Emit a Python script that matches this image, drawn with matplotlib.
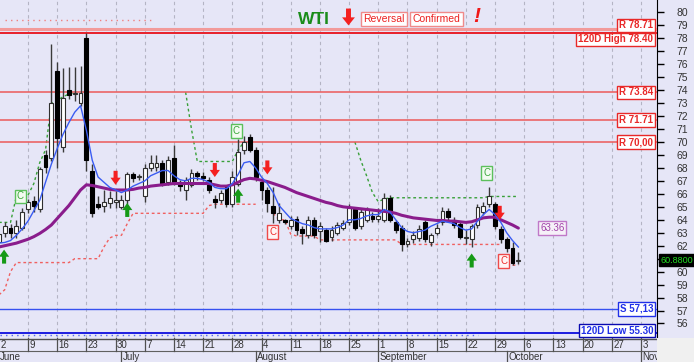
import numpy as np
import matplotlib.pyplot as plt
from matplotlib.patches import FancyArrow, Rectangle
import matplotlib.transforms as mtransforms

plt.rcParams['font.family'] = ['Liberation Sans', 'DejaVu Sans']

# daily candles, trading-day index 0 = Mon 2 June ... 89 = Fri 3 October
opens = [62.3, 63.0, 63.4, 63.0, 63.4, 64.8, 65.45, 64.8, 69.0, 68.8,
         75.5, 69.6, 74.0, 73.7, 73.0, 78.0, 67.8, 65.2, 65.1, 65.3,
         65.4, 65.0, 65.5, 67.5, 67.3, 65.8, 68.0, 68.1, 68.4, 66.9,
         68.8, 66.9, 66.3, 66.7, 67.6, 67.35, 67.1, 65.6, 65.5, 66.5,
         65.2, 66.8, 69.4, 70.4, 69.4, 66.9, 66.3, 65.1, 64.0, 63.95,
         63.5, 64.1, 63.3, 62.8, 64.0, 63.1, 63.2, 62.7, 63.0, 63.4,
         63.8, 64.8, 63.5, 64.0, 64.3, 64.1, 64.0, 65.7, 63.8, 63.4,
         62.1, 62.5, 62.6, 63.8, 62.3, 63.0, 63.8, 64.7, 64.0, 63.7,
         62.6, 62.5, 63.6, 64.6, 65.2, 65.2, 63.3, 62.5, 61.8, 60.8]
highs = [63.2, 63.8, 63.7, 64.0, 64.9, 65.6, 65.8, 68.1, 69.4, 77.6,
         76.2, 75.7, 75.8, 75.8, 75.9, 78.4, 68.3, 65.8, 66.3, 66.2,
         66.2, 65.9, 67.7, 67.7, 67.5, 68.3, 69.0, 69.0, 68.6, 68.9,
         69.8, 67.1, 67.3, 67.9, 67.8, 67.7, 67.3, 65.9, 66.3, 66.6,
         67.8, 70.2, 70.5, 70.6, 69.6, 67.2, 66.5, 66.5, 65.3, 64.1,
         64.3, 64.3, 63.5, 64.3, 64.2, 63.8, 63.4, 63.5, 63.8, 64.0,
         65.2, 65.0, 64.8, 65.0, 64.6, 64.9, 66.1, 65.9, 64.0, 63.6,
         62.6, 63.1, 63.6, 64.0, 63.0, 63.7, 65.0, 64.9, 64.2, 63.9,
         63.2, 63.7, 65.2, 65.4, 66.5, 65.4, 63.5, 62.7, 62.3, 61.5]
lows = [61.9, 62.7, 62.6, 62.6, 63.2, 64.5, 64.6, 64.6, 67.6, 68.5,
        68.0, 69.2, 73.3, 73.2, 72.8, 67.8, 64.2, 64.8, 64.6, 64.9,
        64.9, 64.8, 65.2, 66.9, 67.1, 65.4, 67.8, 67.8, 66.6, 66.7,
        66.7, 66.2, 65.5, 66.5, 67.1, 67.0, 66.1, 64.9, 65.3, 65.0,
        65.0, 66.6, 69.1, 69.2, 67.0, 65.5, 64.6, 63.75, 63.75, 63.7,
        63.3, 62.8, 62.1, 62.6, 62.6, 62.3, 62.3, 62.4, 62.8, 63.2,
        63.6, 63.2, 63.3, 63.8, 63.8, 63.8, 63.8, 63.8, 63.0, 61.6,
        61.9, 62.2, 62.4, 62.3, 62.0, 62.8, 63.6, 63.9, 63.4, 62.5,
        62.1, 61.9, 63.4, 64.4, 65.0, 63.3, 62.2, 61.5, 60.5, 60.6]
closes = [62.9, 63.5, 63.0, 63.5, 64.6, 65.4, 65.1, 67.9, 68.1, 73.0,
          70.3, 73.4, 73.6, 73.8, 73.8, 68.6, 64.5, 65.0, 65.4, 65.7,
          65.5, 65.5, 67.5, 67.25, 67.35, 68.0, 68.4, 68.4, 66.8, 68.6,
          66.9, 66.6, 67.1, 67.6, 67.4, 67.25, 66.3, 65.4, 66.1, 65.2,
          67.3, 69.2, 70.0, 69.4, 67.3, 66.3, 65.3, 64.5, 64.5, 63.85,
          64.0, 63.2, 63.0, 64.0, 62.8, 63.5, 62.4, 63.2, 63.6, 63.75,
          64.9, 63.4, 64.6, 64.8, 64.1, 64.3, 65.7, 64.0, 63.2, 62.1,
          62.35, 62.8, 63.3, 62.5, 62.8, 63.4, 64.7, 64.2, 63.6, 62.7,
          62.7, 63.5, 65.0, 65.1, 65.8, 63.5, 62.5, 61.8, 60.7, 60.88]

# fast (blue) and slow (purple) averages as drawn on the chart
ma_fast = [62.2, 62.25, 62.4, 62.8, 63.3, 63.9, 64.7, 65.5, 66.9, 68.3,
           69.5, 70.6, 71.5, 72.3, 72.8, 70.9, 68.6, 67.3, 66.9, 66.5,
           66.3, 66.1, 66.3, 66.6, 66.8, 67.0, 67.4, 67.6, 67.8, 67.8,
           67.4, 67.1, 67.0, 67.2, 67.2, 67.1, 66.9, 66.5, 66.4, 66.4,
           66.8, 67.5, 68.4, 68.5, 68.0, 67.3, 66.8, 66.1, 65.1, 64.6,
           64.1, 63.9, 63.7, 63.6, 63.4, 63.3, 63.3, 63.3, 63.4, 63.6,
           64.0, 64.0, 64.1, 64.3, 64.4, 64.4, 64.8, 64.6, 64.0, 63.4,
           63.1, 63.0, 63.1, 63.2, 63.5, 63.7, 63.9, 63.8, 63.7, 63.4,
           63.2, 63.3, 63.9, 64.4, 64.8, 64.4, 63.8, 63.0, 62.4, 61.9]
ma_slow = [61.9, 62.0, 62.1, 62.2, 62.35, 62.5, 62.7, 62.95, 63.25, 63.6,
           64.1, 64.6, 65.1, 65.7, 66.3, 66.7, 66.65, 66.55, 66.45, 66.35,
           66.3, 66.3, 66.3, 66.35, 66.45, 66.5, 66.6, 66.65, 66.7, 66.75,
           66.8, 66.8, 66.8, 66.8, 66.8, 66.8, 66.8, 66.7, 66.6, 66.6,
           66.7, 66.9, 67.1, 67.2, 67.15, 67.05, 66.95, 66.8, 66.65, 66.5,
           66.3, 66.1, 65.95, 65.8, 65.65, 65.5, 65.35, 65.25, 65.1, 65.0,
           64.95, 64.9, 64.85, 64.8, 64.75, 64.7, 64.65, 64.6, 64.5, 64.35,
           64.25, 64.15, 64.1, 64.05, 64.0, 63.95, 63.95, 63.9, 63.9, 63.85,
           63.8, 63.85, 64.0, 64.15, 64.2, 64.2, 64.0, 63.8, 63.6, 63.36]

# dotted stop lines (nan = not drawn or hidden under a level line)
nan = np.nan
support = ([58.2, 58.6, 60.0] + [60.7] * 10 + [61.0] * 5 + [61.9, 62.6, 62.8, 62.8, 63.7]
           + [64.5] * 13 + [65.1] + [65.2] * 8 + [nan, nan, 64.5, 64.0, 64.0, 62.9]
           + [62.75] * 4 + [62.45] * 14 + [62.1] * 18 + [nan, 60.5, 60.5])
resist = ([63.8, 63.8, 63.8, 65.8, 65.8, 65.9, 66.8, 68.4, 69.4, 73.0, 73.2, 73.5, 73.7, 73.84]
          + [nan] * 18 + [73.84, 71.0] + [68.5] * 7 + [69.4, 70.0] + [nan] * 18
          + [70.0, 68.6, 67.4, 66.1, 65.4, 65.6] + [65.7] * 17 + [65.8] * 6)

levels = [78.71, 78.40, 73.84, 71.71, 70.00, 57.13, 55.30]
level_labels = ['R 78.71', '120D High 78.40', 'R 73.84', 'R 71.71', 'R 70,00', 'S 57,13', '120D Low 55.30']
label_pos = [79.0, 77.93, 73.84, 71.71, 70.00, 57.13, 55.45]

sell_days, sell_tips = [20, 37, 46, 85.8], [66.7, 67.3, 67.5, 64.0]
buy_days, buy_tips = [0.9, 22, 41, 81], [61.7, 65.3, 66.4, 61.4]
c_green = [(3.7, 65.8), (40.7, 70.85), (83.6, 67.6)]
c_red = [(46.9, 63.05), (86.5, 60.8)]

week_days = list(range(0, 115, 5))
week_labels = ['2', '9', '16', '23', '30', '7', '14', '21', '28', '4', '11', '18',
               '25', '1', '8', '15', '22', '29', '6', '13', '20', '27', '3']
month_days = [0, 21, 44, 65, 87, 110]
month_names = ['June', 'July', 'August', 'September', 'October', 'November']

W, H = 694, 362
bg = '#e6e6f7'
fig = plt.figure(figsize=(W / 100, H / 100), dpi=100)
fig.patch.set_facecolor(bg)
fig.patches.append(Rectangle((657 / W, 0), 1 - 657 / W, 24 / H, transform=fig.transFigure,
                             facecolor='#f0f0f0', edgecolor='none'))

ax = fig.add_axes([0, 24 / H, 657 / W, 338 / H])
ax.set_facecolor(bg)
ax.set_xlim(0.2, 112.75)
ax.set_ylim(54.88, 80.96)

for d in week_days:
    ax.axvline(d, color='#b4b4c4', lw=0.8, ls=(0, (3, 3)), zorder=0)

# horizontal levels
ax.axhline(78.71, color='#f29a9a', lw=2.2, zorder=3)
ax.axhline(78.40, color='#e8202a', lw=1.4, zorder=3)
for v in [73.84, 71.71, 70.00]:
    ax.axhline(v, color='#ec5a5a', lw=1.1, zorder=3)
ax.axhline(57.13, color='#3650f0', lw=1.0, zorder=3)
ax.axhline(55.30, color='#1c1ce0', lw=1.4, zorder=3)
ax.plot([1, 26.2], [79.45, 79.45], color='#f08080', lw=1, ls=(0, (1, 3)), zorder=2)
ax.plot([0.2, 82.1], [55.1, 55.1], color='#5060f0', lw=1, ls=(0, (1, 3)), zorder=2)

days = np.arange(len(closes))
ax.plot(days, support, color='#f06060', lw=1, ls=(0, (2, 2)), zorder=2)
ax.plot(days, resist, color='#38a038', lw=1, ls=(0, (2, 2)), zorder=2)

# candles
o, h, l, c = map(np.array, (opens, highs, lows, closes))
up = c >= o
ax.vlines(days, l, h, color='#3a3a3a', lw=1, zorder=4)
body = np.maximum(np.abs(c - o), 0.05)
ax.bar(days[up], body[up], bottom=np.minimum(o, c)[up], width=0.66,
       color='white', edgecolor='#303030', lw=0.8, zorder=5)
ax.bar(days[~up], body[~up], bottom=np.minimum(o, c)[~up], width=0.66,
       color='black', edgecolor='black', lw=0.8, zorder=5)

ax.plot(days, ma_slow, color='#8a1c8c', lw=2.2, zorder=6, solid_capstyle='round')
ax.plot(days, ma_fast, color='#3a5cf2', lw=1.0, zorder=7)

# signal arrows
for d, t in zip(sell_days, sell_tips):
    ax.add_patch(FancyArrow(d, t + 1.08, 0, -1.08, width=0.7, head_width=1.75, head_length=0.55,
                            length_includes_head=True, color='#f42020', lw=0, zorder=8))
for d, t in zip(buy_days, buy_tips):
    ax.add_patch(FancyArrow(d, t - 1.08, 0, 1.08, width=0.7, head_width=1.75, head_length=0.55,
                            length_includes_head=True, color='#169a16', lw=0, zorder=8))
for d, p in c_green:
    ax.text(d, p, 'C', ha='center', va='center', fontsize=7, color='#3aa83a', zorder=9,
            bbox=dict(boxstyle='square,pad=0.2', fc='#f2fbf0', ec='#5cc05c', lw=1))
for d, p in c_red:
    ax.text(d, p, 'C', ha='center', va='center', fontsize=7, color='#ee2a2a', zorder=9,
            bbox=dict(boxstyle='square,pad=0.2', fc='#fff4f4', ec='#ee4a4a', lw=1))

# right-hand level tags
bt = mtransforms.blended_transform_factory(ax.transAxes, ax.transData)
for lab, p, v in zip(level_labels, label_pos, levels):
    col = '#e82828' if v > 60 else '#2030e8'
    ec = col if lab != '120D Low 55.30' else '#0a0ab0'
    ax.text(0.994, p, lab, transform=bt, ha='right', va='center', fontsize=7, fontweight='bold',
            color=col, zorder=10, bbox=dict(boxstyle='square,pad=0.18', fc='white', ec=ec, lw=1))
ax.text(0.822, ma_slow[-1], '63.36', transform=bt, ha='left', va='center', fontsize=7,
        color='#a040a8', zorder=10, bbox=dict(boxstyle='square,pad=0.2', fc='#f6f0f8', ec='#c078c8', lw=1))
ax.text(1.005, closes[-1], '60.8800', transform=bt, ha='left', va='center', fontsize=6.5,
        color='#22dd22', zorder=10, clip_on=False,
        bbox=dict(boxstyle='square,pad=0.15', fc='black', ec='black'))

# header
ax.add_patch(FancyArrow(59.9, 80.3, 0, -1.3, width=0.85, head_width=2.2, head_length=0.62,
                        length_includes_head=True, color='#f42020', lw=0, zorder=8))
fig.text(298 / W, 1 - 19 / H, 'WTI', fontsize=12.5, fontweight='bold', color='#1a8c1a',
         ha='left', va='center')
fig.text(384 / W, 1 - 19 / H, 'Reversal', fontsize=7.5, color='#ec2020', ha='center', va='center',
         bbox=dict(boxstyle='square,pad=0.2', fc='white', ec='#f08a8a', lw=1))
fig.text(436.5 / W, 1 - 19 / H, 'Confirmed', fontsize=7.5, color='#ec2020', ha='center', va='center',
         bbox=dict(boxstyle='square,pad=0.2', fc='white', ec='#f08a8a', lw=1))
fig.text(477 / W, 1 - 16 / H, '!', fontsize=15, fontweight='bold', fontstyle='italic',
         color='#f01818', ha='center', va='center')

ax.yaxis.tick_right()
yt = list(range(56, 81))
ax.set_yticks(yt)
# the 61 label sits under the last-price tag
ax.set_yticklabels(['' if v == 61 else str(v) for v in yt])
ax.tick_params(axis='y', direction='out', length=5, width=1, color='black', labelsize=7.5,
               labelcolor='#333333', pad=9)
ax.set_xticks([])
for s in ['top', 'left', 'bottom']:
    ax.spines[s].set_visible(False)
ax.spines['right'].set_color('black')

# date strip
dax = fig.add_axes([0, 0, 657 / W, 24 / H])
dax.set_xlim(ax.get_xlim())
dax.set_ylim(0, 24)
dax.axis('off')
dax.axhline(23.5, color='#505050', lw=1)
dax.axhline(11, color='#606060', lw=0.8)
for d, lab in zip(week_days, week_labels):
    dax.plot([d, d], [11, 24], color='#505050', lw=0.9)
    dax.text(d + 0.25, 17.2, lab, fontsize=7, color='#333333', ha='left', va='center', clip_on=True)
for d, m in zip(month_days, month_names):
    dax.plot([d, d], [0, 11], color='#505050', lw=0.9)
    dax.text(d + 0.25, 5.2, m, fontsize=7, color='#333333', ha='left', va='center', clip_on=True)

fig.savefig('out.png', dpi=100, facecolor=bg)
